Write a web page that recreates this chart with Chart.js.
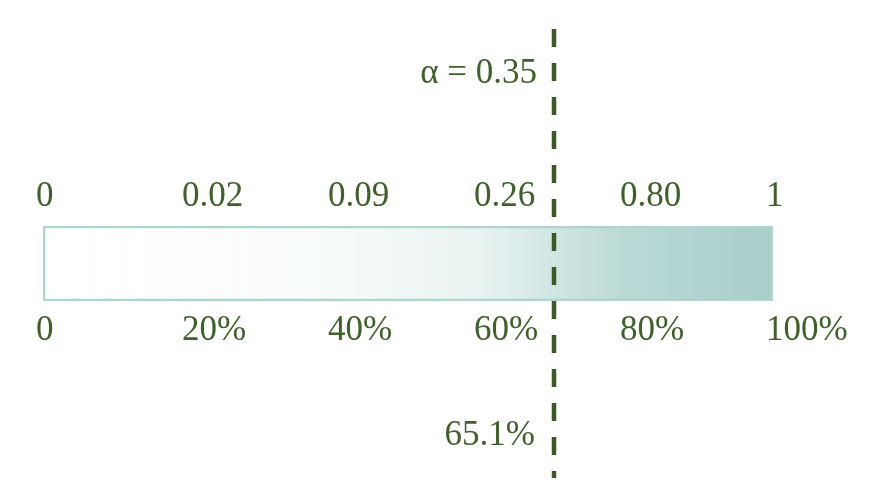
<!DOCTYPE html>
<html>
<head>
<meta charset="utf-8">
<script src="https://cdn.jsdelivr.net/npm/chart.js@4/dist/chart.umd.min.js"></script>
<style>
  html, body { margin: 0; padding: 0; background: #ffffff; }
  #wrap { width: 878px; height: 502px; position: relative; }
</style>
</head>
<body>
<div id="wrap"><canvas id="myChart"></canvas></div>
<script>
// データ
const pctValues = [0, 20, 40, 60, 80, 100];          // 目盛り位置 (%)
const pctLabels = ['0', '20%', '40%', '60%', '80%', '100%'];
const alphaLabels = ['0', '0.02', '0.09', '0.26', '0.80', '1'];
const alphaValues = [0, 0.02, 0.09, 0.26, 0.80, 1];  // グラデーションの不透明度
const barValue = [100];
const markerValue = 70;           // 破線の位置
const markerTop = 'α = 0.35';
const markerBottom = '65.1%';

const textColor = '#3e6129';
const lineColor = '#3a5b24';
const teal = [168, 207, 202];
const fontSpec = { family: '"Liberation Serif", "Times New Roman", serif', size: 35 };

// グラデーション
function barGradient(context) {
    const chart = context.chart;
    if (!chart.chartArea) return 'rgba(168,207,202,0.5)';
    const x = chart.scales.x;
    const x0 = x.getPixelForValue(pctValues[0]);
    const x1 = x.getPixelForValue(pctValues[pctValues.length - 1]);
    const g = chart.ctx.createLinearGradient(x0, 0, x1, 0);
    pctValues.forEach((p, i) => {
        g.addColorStop(p / 100, `rgba(${teal[0]},${teal[1]},${teal[2]},${alphaValues[i]})`);
    });
    return g;
}

// 破線と注記
const markerPlugin = {
    id: 'marker',
    afterDraw(chart) {
        const { ctx, chartArea } = chart;
        const px = chart.scales.x.getPixelForValue(markerValue);
        ctx.save();
        ctx.strokeStyle = lineColor;
        ctx.lineWidth = 4.5;
        ctx.setLineDash([18, 16]);
        ctx.beginPath();
        ctx.moveTo(px, chartArea.top - 197);
        ctx.lineTo(px, chartArea.bottom + 177);
        ctx.stroke();
        ctx.setLineDash([]);
        ctx.fillStyle = textColor;
        ctx.font = `${fontSpec.size}px ${fontSpec.family}`;
        ctx.textAlign = 'right';
        ctx.textBaseline = 'middle';
        ctx.fillText(markerTop, px - 17, chartArea.top - 152);
        ctx.fillText(markerBottom, px - 19, chartArea.bottom + 135);
        ctx.restore();
    }
};

const ctx = document.getElementById('myChart').getContext('2d');
const myChart = new Chart(ctx, {
    type: 'bar',
    data: {
        labels: [''],
        datasets: [{
            data: barValue,
            backgroundColor: barGradient,
            borderColor: '#b0d5d0',
            borderWidth: 2,
            borderSkipped: false,
            barPercentage: 1,
            categoryPercentage: 1
        }]
    },
    options: {
        indexAxis: 'y',
        responsive: true,
        maintainAspectRatio: false,
        animation: false,
        layout: { padding: { left: 43, right: 105, top: 168, bottom: 141 } },
        plugins: { legend: { display: false }, tooltip: { enabled: false } },
        scales: {
            x: {
                type: 'linear',
                position: 'bottom',
                min: 0, max: 100,
                grid: { display: false, drawTicks: false },
                border: { display: false },
                ticks: {
                    stepSize: 20,
                    align: 'start',
                    labelOffset: -7,
                    padding: 9,
                    color: textColor,
                    font: fontSpec,
                    callback: (v, i) => pctLabels[i]
                }
            },
            x2: {
                type: 'linear',
                position: 'top',
                min: 0, max: 100,
                grid: { display: false, drawTicks: false },
                border: { display: false },
                ticks: {
                    stepSize: 20,
                    align: 'start',
                    labelOffset: -7,
                    padding: 8,
                    color: textColor,
                    font: fontSpec,
                    callback: (v, i) => alphaLabels[i]
                }
            },
            y: { display: false }
        }
    },
    plugins: [markerPlugin]
});
</script>
</body>
</html>
